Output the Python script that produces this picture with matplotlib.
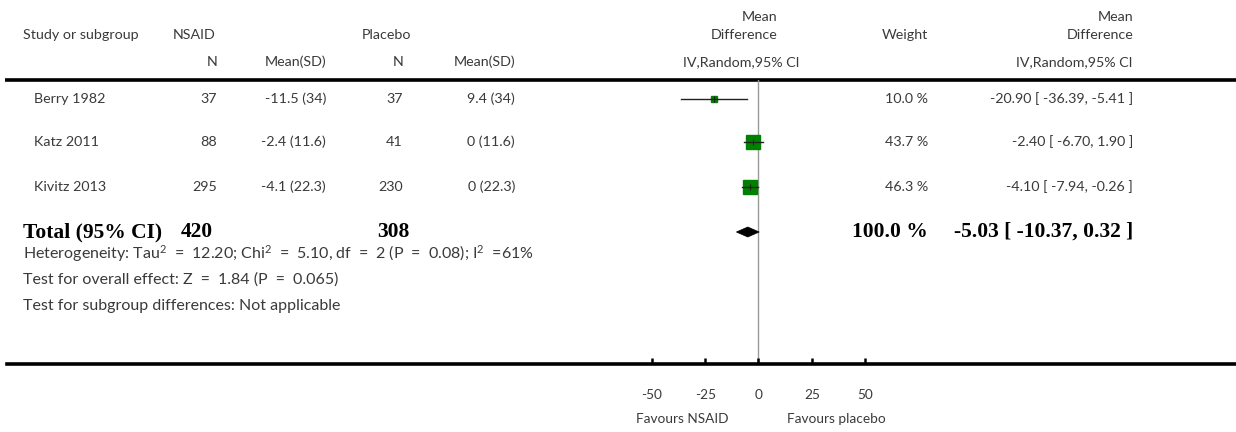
#!/usr/bin/env python
# forest plot: NSAID vs placebo, mean difference (IV, random, 95% CI)
import matplotlib
matplotlib.use('Agg')
import matplotlib.pyplot as plt
from matplotlib.patches import Polygon

# study data
studies = ['Berry 1982', 'Katz 2011', 'Kivitz 2013']
nsaid_n = [37, 88, 295]
nsaid_mean_sd = ['-11.5 (34)', '-2.4 (11.6)', '-4.1 (22.3)']
placebo_n = [37, 41, 230]
placebo_mean_sd = ['9.4 (34)', '0 (11.6)', '0 (22.3)']
md = [-20.90, -2.40, -4.10]
ci_low = [-36.39, -6.70, -7.94]
ci_high = [-5.41, 1.90, -0.26]
weights = [10.0, 43.7, 46.3]

# pooled result
total_nsaid = 420
total_placebo = 308
total_md = -5.03
total_low = -10.37
total_high = 0.32

footnotes = [
    'Heterogeneity: Tau$^2$ = 12.20; Chi$^2$ = 5.10, df = 2 (P = 0.08); I$^2$ =61%',
    'Test for overall effect: Z = 1.84 (P = 0.065)',
    'Test for subgroup differences: Not applicable',
]
xticks = [-50, -25, 0, 25, 50]

plt.rcParams['font.family'] = ['Lato', 'DejaVu Sans']
plt.rcParams['mathtext.fontset'] = 'custom'
plt.rcParams['mathtext.rm'] = 'Lato'
plt.rcParams['mathtext.it'] = 'Lato'

W, H = 1236, 432
TXT = '#3a3a3a'
FS = 10.3
GREEN = '#008000'
WIDE = '\u2002'   # the original font sets "=" with wide side bearings

fig = plt.figure(figsize=(W / 100, H / 100), dpi=100)

# text layer in pixel coordinates
tx = fig.add_axes([0, 0, 1, 1])
tx.set_xlim(0, W)
tx.set_ylim(H, 0)
tx.axis('off')


def put(x, y, s, ha='left', **kw):
    kw.setdefault('fontsize', FS)
    kw.setdefault('color', TXT)
    tx.text(x, y, s, ha=ha, va='center', **kw)


# header
put(23, 35, 'Study or subgroup')
put(173, 35, 'NSAID')
put(362, 35, 'Placebo')
put(777, 17, 'Mean', ha='right')
put(777, 35, 'Difference', ha='right')
put(928, 35, 'Weight', ha='right')
put(1133, 17, 'Mean', ha='right')
put(1133, 35, 'Difference', ha='right')

put(217, 62, 'N', ha='right')
put(326, 62, 'Mean(SD)', ha='right')
put(403, 62, 'N', ha='right')
put(515, 62, 'Mean(SD)', ha='right')
put(741, 62, 'IV,Random,95% CI', ha='center')
put(1133, 62, 'IV,Random,95% CI', ha='right')

tx.plot([5, W], [80, 80], color='black', lw=2.6, solid_capstyle='butt')

row_y = [99, 142, 187]
for i, name in enumerate(studies):
    y = row_y[i]
    put(34, y, name)
    put(217, y, str(nsaid_n[i]), ha='right')
    put(326, y, nsaid_mean_sd[i], ha='right')
    put(403, y, str(placebo_n[i]), ha='right')
    put(515, y, placebo_mean_sd[i], ha='right')
    put(928, y, '%.1f %%' % weights[i], ha='right')
    put(1133, y, '%.2f [ %.2f, %.2f ]' % (md[i], ci_low[i], ci_high[i]), ha='right')

# total row in bold serif
bold = dict(fontsize=15.5, color='black', fontweight='bold',
            family=['Liberation Serif', 'DejaVu Serif'])
ty = 232
put(23, ty, 'Total (95% CI)', **bold)
put(213, ty, str(total_nsaid), ha='right', **bold)
put(410, ty, str(total_placebo), ha='right', **bold)
put(928, ty, '%.1f %%' % sum(weights), ha='right', **bold)
put(1133, ty, '%.2f [ %.2f, %.2f ]' % (total_md, total_low, total_high), ha='right', **bold)

for k, s in enumerate(footnotes):
    s = s.replace(' = ', WIDE + '=' + WIDE).replace(' =6', WIDE + '=6')
    put(23, 254 + 26 * k, s, fontsize=11.5)

# forest plot axes, bottom spine at y=364 px, top at 80 px
y_top, y_bot = 80, 364
x0_px, scale = 758.5, 2.133
left_px = 7
ax = fig.add_axes([left_px / W, (H - y_bot) / H, (W - left_px) / W, (y_bot - y_top) / H])
ax.patch.set_alpha(0)
ax.set_xlim((left_px - x0_px) / scale, (W - x0_px) / scale)
ax.set_ylim(y_bot, y_top)
for sp in ['top', 'left', 'right']:
    ax.spines[sp].set_visible(False)
ax.spines['bottom'].set_linewidth(2.6)
ax.set_yticks([])
ax.set_xticks(xticks)
ax.set_xticklabels([str(t) for t in xticks])
ax.tick_params(axis='x', direction='in', length=4, width=1.8, pad=18,
               labelsize=9.8, labelcolor=TXT)

ax.axvline(0, color='#999999', lw=1.0, zorder=1)

for i in range(len(studies)):
    y = row_y[i]
    side_px = 2.0 * weights[i] ** 0.5
    ax.plot(md[i], y, marker='s', ms=side_px * 0.72, color=GREEN, mec=GREEN,
            ls='none', zorder=2)
    ax.plot([ci_low[i], ci_high[i]], [y, y], color='#222222', lw=1.0, zorder=3)
    ax.plot(md[i], y, marker='|', ms=5, mew=0.8, color='#222222', zorder=3)

diamond = Polygon([(total_low, ty), (total_md, ty - 5), (total_high, ty), (total_md, ty + 5)],
                  closed=True, facecolor='black', edgecolor='black', lw=0.5, zorder=3)
ax.add_patch(diamond)

put(682, 419, 'Favours NSAID', ha='center', fontsize=9.8)
put(836, 419, 'Favours placebo', ha='center', fontsize=9.8)

fig.savefig('out.png', dpi=100)
